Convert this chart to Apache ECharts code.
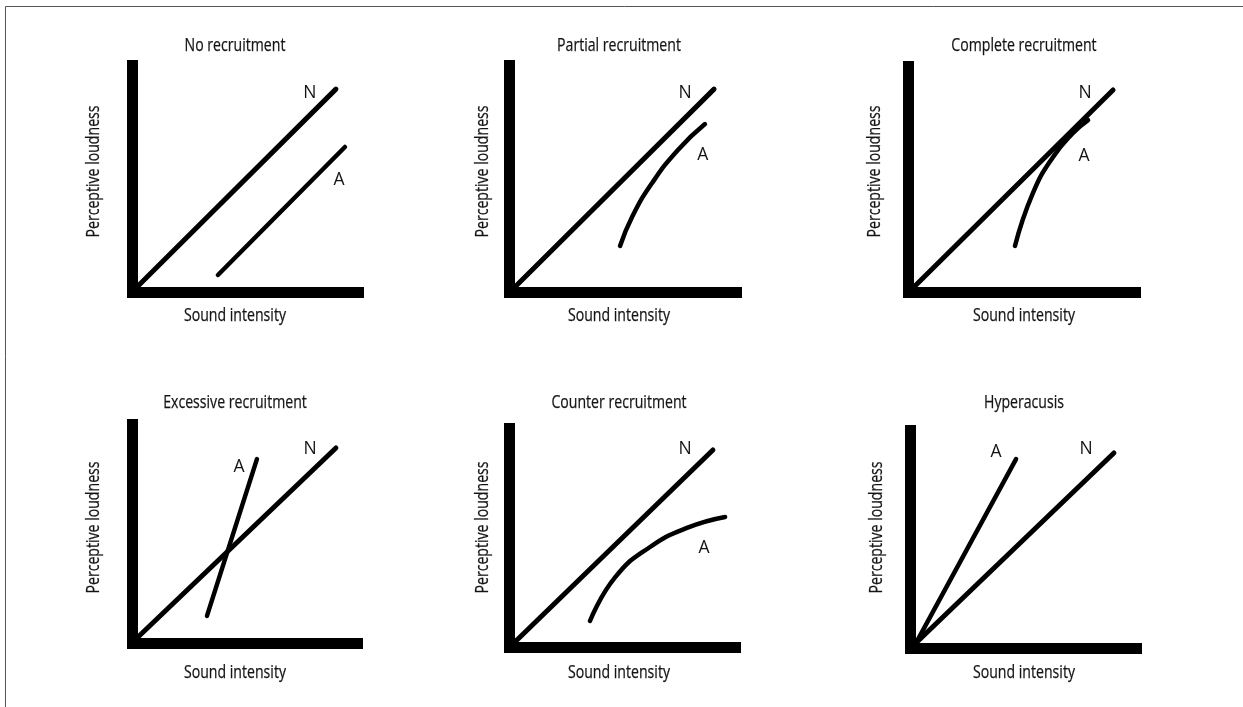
<!DOCTYPE html>
<html>
<head>
<meta charset="utf-8">
<script src="https://cdn.jsdelivr.net/npm/echarts@6/dist/echarts.min.js"></script>
<style>
html,body{margin:0;padding:0;background:#fff;}
#chart{width:1243px;height:707px;}
</style>
</head>
<body>
<div id="chart"></div>
<script>
// ---- data (values on a 0-100 scale for both axes) ----
const titles = ['No recruitment', 'Partial recruitment', 'Complete recruitment',
                'Excessive recruitment', 'Counter recruitment', 'Hyperacusis'];
const xName = 'Sound intensity';
const yName = 'Perceptive loudness';
const normalN = [
  [[2.0, 2.4], [90.0, 89.6]],
  [[2.4, 2.4], [90.1, 89.6]],
  [[2.4, 2.4], [90.1, 89.6]],
  [[2.0, 2.5], [90.4, 89.3]],
  [[2.4, 2.5], [90.0, 90.2]],
  [[2.4, 2.5], [90.0, 89.7]]
];
const abnormalA = [
  [[37.8, 7.7], [94.0, 64.1]],
  [[48.7, 20.5], [54.0, 33.3], [62.8, 48.2], [74.2, 62.8], [86.1, 74.2]],
  [[46.9, 20.6], [54.8, 44.0], [63.7, 60.0], [72.5, 70.6], [79.1, 76.3]],
  [[33.1, 12.6], [55.3, 84.2]],
  [[35.6, 12.1], [46.7, 32.0], [62.2, 45.9], [78.5, 54.6], [95.4, 59.6]],
  [[2.4, 2.5], [46.7, 86.9]]
];
const labelN = [[78.5, 87.9], [77.3, 87.9], [77.8, 88.3], [78.9, 88.8], [77.7, 90.6], [77.7, 91.5]];
const labelA = [[91.4, 49.6], [85.2, 60.6], [77.3, 60.4], [47.3, 80.6], [86.1, 45.4], [37.8, 90.1]];

// ---- layout (pixel geometry of each panel) ----
const W = 1243, H = 707, BAR = 11;
const panels = [
  {xl: 127, yt: 60, yb: 287, xr: 364, tx: 235, ty: 45, xny: 315, ynx: 94, yny: 171},
  {xl: 504, yt: 60, yb: 287, xr: 742, tx: 619, ty: 45, xny: 315, ynx: 483, yny: 171},
  {xl: 903, yt: 61, yb: 287, xr: 1141, tx: 1024, ty: 45, xny: 315, ynx: 875, yny: 171},
  {xl: 127, yt: 419, yb: 638, xr: 363, tx: 235, ty: 402, xny: 672, ynx: 94, yny: 527},
  {xl: 504, yt: 423, yb: 642, xr: 741, tx: 619, ty: 402, xny: 672, ynx: 483, yny: 527},
  {xl: 905, yt: 425, yb: 643, xr: 1142, tx: 1024, ty: 402, xny: 672, ynx: 877, yny: 527}
];
const FONT = '"Open Sans", "Noto Sans", sans-serif';
const FS = 18.5;
const COLOR = '#141414';

// condense the humanist font horizontally, like the condensed face in the source
const ctx = document.createElement('canvas').getContext('2d');
ctx.font = FS + 'px "Open Sans"';
const SX = 102 / ctx.measureText(xName).width;

function txt(text, x, y, rot) {
  return {
    type: 'text', silent: true, x: x, y: y + 0.5, rotation: rot || 0, scaleX: SX,
    style: {text: text, fontFamily: FONT, fontSize: FS, fill: COLOR, align: 'center', verticalAlign: 'middle',
            stroke: COLOR, lineWidth: 0.25}
  };
}

const grid = [], xAxis = [], yAxis = [], series = [];
const graphic = [{
  type: 'polyline', silent: true,
  shape: {points: [[5.5, H], [5.5, 6.5], [W, 6.5]]},
  style: {stroke: '#555', lineWidth: 1, fill: null}
}];
panels.forEach((p, i) => {
  const h = BAR / 2;
  const left = p.xl + h, bottomY = p.yb + h;
  const rightX = p.xr - h, topY = p.yt + h;
  grid.push({left: left, top: topY, width: rightX - left, height: bottomY - topY});
  const axisLine = {show: true, onZero: false, lineStyle: {color: '#000', width: BAR, cap: 'square'}};
  xAxis.push({
    gridIndex: i, type: 'value', min: 0, max: 100,
    axisLine: axisLine, axisTick: {show: false}, axisLabel: {show: false}, splitLine: {show: false}
  });
  yAxis.push({
    gridIndex: i, type: 'value', min: 0, max: 100,
    axisLine: axisLine, axisTick: {show: false}, axisLabel: {show: false}, splitLine: {show: false}
  });
  graphic.push(txt(titles[i], p.tx, p.ty));
  graphic.push(txt(xName, p.tx, p.xny));
  graphic.push(txt(yName, p.ynx, p.yny, Math.PI / 2));
  series.push({
    type: 'line', xAxisIndex: i, yAxisIndex: i, data: normalN[i], showSymbol: false, symbol: 'none',
    lineStyle: {color: '#000', width: 5, cap: 'round'}, silent: true, animation: false
  });
  series.push({
    type: 'line', xAxisIndex: i, yAxisIndex: i, data: abnormalA[i], showSymbol: false, symbol: 'none',
    smooth: abnormalA[i].length > 2 ? 0.5 : false,
    lineStyle: {color: '#000', width: 4.5, cap: 'round'}, silent: true, animation: false, z: 3
  });
  series.push({
    type: 'scatter', xAxisIndex: i, yAxisIndex: i, symbolSize: 0, silent: true, animation: false,
    itemStyle: {opacity: 1},
    data: [{value: labelN[i], name: 'N'}, {value: labelA[i], name: 'A'}],
    label: {show: true, position: 'inside', formatter: '{b}', fontFamily: FONT, fontSize: FS - 1, color: COLOR}
  });
});

const chart = echarts.init(document.getElementById('chart'), null, {renderer: 'canvas'});
chart.setOption({
  backgroundColor: '#fff',
  animation: false,
  grid: grid,
  xAxis: xAxis,
  yAxis: yAxis,
  series: series,
  graphic: graphic
});
</script>
</body>
</html>
